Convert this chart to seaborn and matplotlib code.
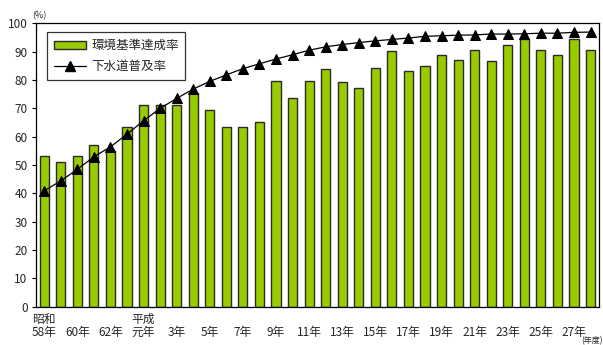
import numpy as np
import pandas as pd
import matplotlib
matplotlib.use("Agg")
import matplotlib.pyplot as plt
from matplotlib.patches import Patch
from matplotlib.lines import Line2D
import seaborn as sns

# Fiscal years: Showa 58 - 63, then Heisei 1 (元) - 28
years = ["S58", "S59", "S60", "S61", "S62", "S63"] + [f"H{i}" for i in range(1, 29)]

# Environmental standard achievement rate (%)
achievement = [53, 51, 53, 57, 55, 63.4, 71.3, 71.3, 71.3, 75.5, 69.4, 63.3, 63.3, 65.3,
               79.6, 73.5, 79.6, 83.7, 79.3, 77.0, 84.3, 90.2, 83.0, 84.9, 88.8, 86.9,
               90.7, 86.8, 92.5, 94.3, 90.7, 88.9, 94.4, 90.7]

# Sewerage coverage rate (%)
sewerage = [40.9, 44.4, 48.5, 52.9, 56.4, 60.9, 65.6, 70.0, 73.5, 76.8, 79.5, 81.8, 84.0,
            85.7, 87.4, 88.9, 90.5, 91.7, 92.5, 93.2, 93.8, 94.3, 94.8, 95.4, 95.6, 95.8,
            95.9, 96.2, 96.2, 96.3, 96.5, 96.5, 96.8, 96.9]

tick_labels = ["昭和\n58年", "60年", "62年", "平成\n元年", "3年", "5年", "7年", "9年", "11年",
               "13年", "15年", "17年", "19年", "21年", "23年", "25年", "27年"]

series_names = ["環境基準達成率", "下水道普及率"]

sns.set_theme(style="white")
plt.rcParams["font.family"] = ["Noto Sans CJK JP", "DejaVu Sans"]

df = pd.DataFrame({"year": years, "achievement": achievement, "sewerage": sewerage})
df["pos"] = np.arange(len(df))

fig = plt.figure(figsize=(6.03, 3.45), dpi=100)
ax = fig.add_axes([0.0597, 0.111, 0.9333, 0.8215])

bar_color = "#99CC00"
sns.barplot(data=df, x="year", y="achievement", color=bar_color, saturation=1,
            width=0.55, edgecolor="#2a2a2a", linewidth=1.0, ax=ax, zorder=2)
sns.lineplot(data=df, x="pos", y="sewerage", color="black", linewidth=0.9,
             marker="^", markersize=6.5, markeredgecolor="black", ax=ax, zorder=3)

n = len(years)
ax.set_xlim(-0.5, n - 0.5)
ax.set_ylim(0, 100)
ax.set_yticks(np.arange(0, 101, 10))
ax.set_xticks(np.arange(0, n, 2))
ax.set_xticklabels(tick_labels, fontsize=8.5, linespacing=1.0, va="bottom")
ax.set_xticks(np.arange(-0.5, n, 1), minor=True)
ax.tick_params(axis="x", which="major", length=0, pad=23)
ax.tick_params(axis="x", which="minor", direction="in", length=3, width=0.8, color="black")
ax.tick_params(axis="y", direction="out", length=3, width=0.8, color="black",
               labelsize=8.5, pad=3, left=True)
ax.set_xlabel("")
ax.set_ylabel("")

for sp in ax.spines.values():
    sp.set_color("black")
    sp.set_linewidth(0.9)

fig.text(0.066, 0.955, "(%)", fontsize=6.5, ha="center", va="center")
fig.text(0.999, 0.0, "(年度)", fontsize=5.8, ha="right", va="bottom")

handles = [Patch(facecolor=bar_color, edgecolor="#2a2a2a", linewidth=1.0),
           Line2D([], [], color="black", linewidth=0.9, marker="^", markersize=6.5)]
leg = ax.legend(handles, series_names, loc="upper left", bbox_to_anchor=(0.019, 0.968),
                fontsize=9, frameon=True, fancybox=False, edgecolor="black",
                handlelength=2.6, handleheight=0.6, borderpad=0.55, labelspacing=0.6,
                handletextpad=0.4, borderaxespad=0)
leg.get_frame().set_linewidth(0.9)

fig.savefig("out.png", dpi=100, facecolor="white")
